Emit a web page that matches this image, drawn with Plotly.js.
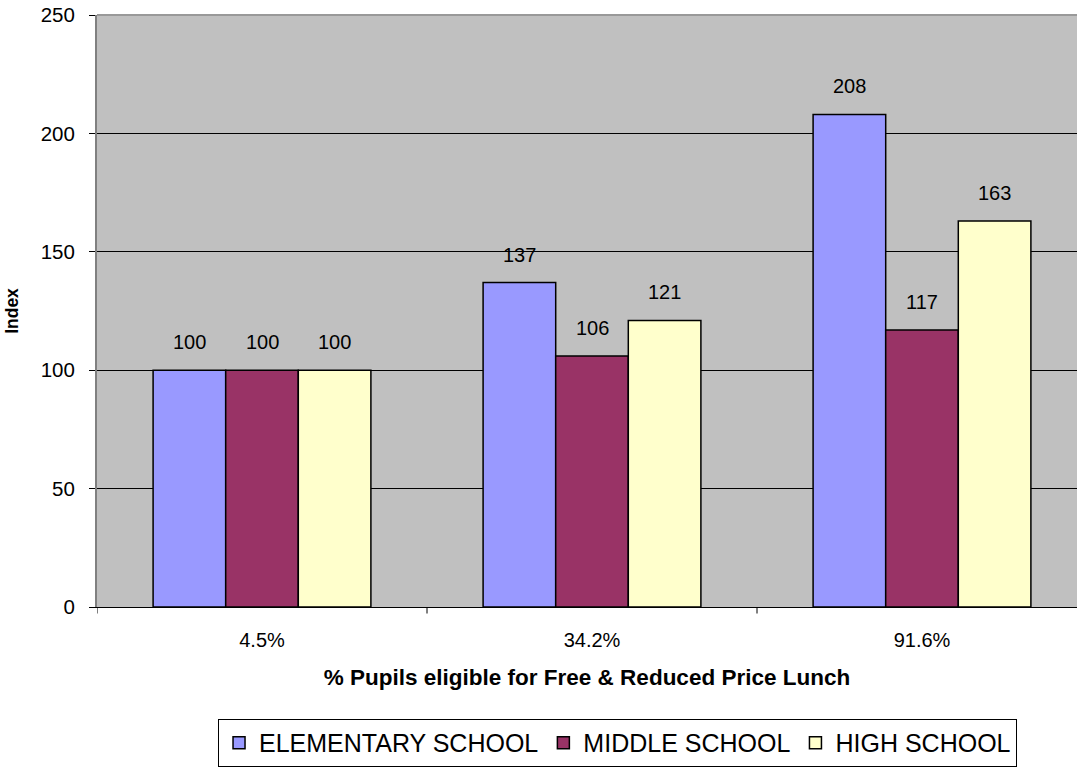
<!DOCTYPE html>
<html>
<head>
<meta charset="utf-8">
<script src="https://cdn.plot.ly/plotly-3.0.1.min.js"></script>
<style>
  html, body { margin: 0; padding: 0; background: #ffffff; }
  #chart { width: 1077px; height: 768px; }
</style>
</head>
<body>
<div id="chart"></div>
<script>
// Lunch-eligibility bands on the x axis
const categories = ['4.5%', '34.2%', '91.6%'];

// Index values per school level (4.5% band = 100)
const elementary = [100, 137, 208];
const middle = [100, 106, 117];
const high = [100, 121, 163];

const seriesNames = ['ELEMENTARY SCHOOL', 'MIDDLE SCHOOL', 'HIGH SCHOOL'];
const seriesColors = ['#9999FF', '#993366', '#FFFFCC'];
const seriesValues = [elementary, middle, high];

const FONT = 'Liberation Sans, Arial, Helvetica, sans-serif';
const BARGAP = 0.34;

const traces = seriesValues.map((vals, i) => ({
  type: 'bar',
  name: seriesNames[i],
  x: categories.map((_, k) => k),
  y: vals,
  marker: { color: seriesColors[i], line: { color: '#000000', width: 1.5 } },
  hoverinfo: 'skip'
}));

// Value labels sit above each bar, centred on it
const barWidth = (1 - BARGAP) / seriesValues.length;
const annotations = [];
seriesValues.forEach((vals, i) => {
  vals.forEach((v, k) => {
    annotations.push({
      x: k + (i - (seriesValues.length - 1) / 2) * barWidth,
      y: v,
      xref: 'x', yref: 'y',
      text: String(v),
      showarrow: false,
      yanchor: 'middle',
      yshift: 28,
      font: { family: FONT, size: 20, color: '#000000' }
    });
  });
});

const layout = {
  width: 1077,
  height: 768,
  margin: { l: 97, r: 0, t: 15, b: 161 },
  paper_bgcolor: '#ffffff',
  plot_bgcolor: '#C0C0C0',
  barmode: 'group',
  bargap: BARGAP,
  bargroupgap: 0,
  showlegend: true,
  legend: {
    orientation: 'h',
    x: 0.1235, xanchor: 'left',
    y: -0.189, yanchor: 'top',
    bgcolor: '#ffffff',
    bordercolor: '#000000',
    borderwidth: 1,
    font: { family: FONT, size: 25, color: '#000000' },
    traceorder: 'normal'
  },
  xaxis: {
    type: 'linear',
    range: [-0.5, 2.4697],
    tickmode: 'array',
    tickvals: categories.map((_, k) => k),
    ticktext: categories,
    showgrid: false,
    zeroline: false,
    showline: true,
    linecolor: '#000000',
    linewidth: 1,
    ticks: '',
    tickfont: { family: FONT, size: 20, color: '#000000' },
    ticklabelstandoff: 15,
    title: {
      text: '% Pupils eligible for Free & Reduced Price Lunch',
      font: { family: FONT, size: 22.5, color: '#000000', weight: 'bold' },
      standoff: 19
    },
    fixedrange: true
  },
  yaxis: {
    range: [0, 250],
    tickvals: [0, 50, 100, 150, 200, 250],
    showgrid: true,
    gridcolor: '#000000',
    gridwidth: 1,
    zeroline: false,
    showline: true,
    linecolor: '#808080',
    linewidth: 2,
    ticks: 'outside',
    ticklen: 6,
    tickcolor: '#000000',
    tickwidth: 1,
    ticklabelstandoff: 10,
    tickfont: { family: FONT, size: 20.5, color: '#000000' },
    title: {
      text: 'Index',
      font: { family: FONT, size: 17.5, color: '#000000', weight: 'bold' },
      standoff: 18
    },
    fixedrange: true
  },
  annotations: annotations,
  shapes: [
    // plot-area top border
    { type: 'line', xref: 'paper', yref: 'paper', x0: 0, x1: 1, y0: 1, y1: 1,
      line: { color: '#999999', width: 2 } }
  ].concat(
    // category boundary tick marks below the x axis
    [0, 1, 2].map(k => ({
      type: 'line', xref: 'x', yref: 'paper',
      x0: k - 0.5, x1: k - 0.5, y0: 0, y1: -0.011,
      line: { color: '#000000', width: 1 }
    }))
  )
};

Plotly.newPlot('chart', traces, layout, { displayModeBar: false, staticPlot: true });
</script>
</body>
</html>
